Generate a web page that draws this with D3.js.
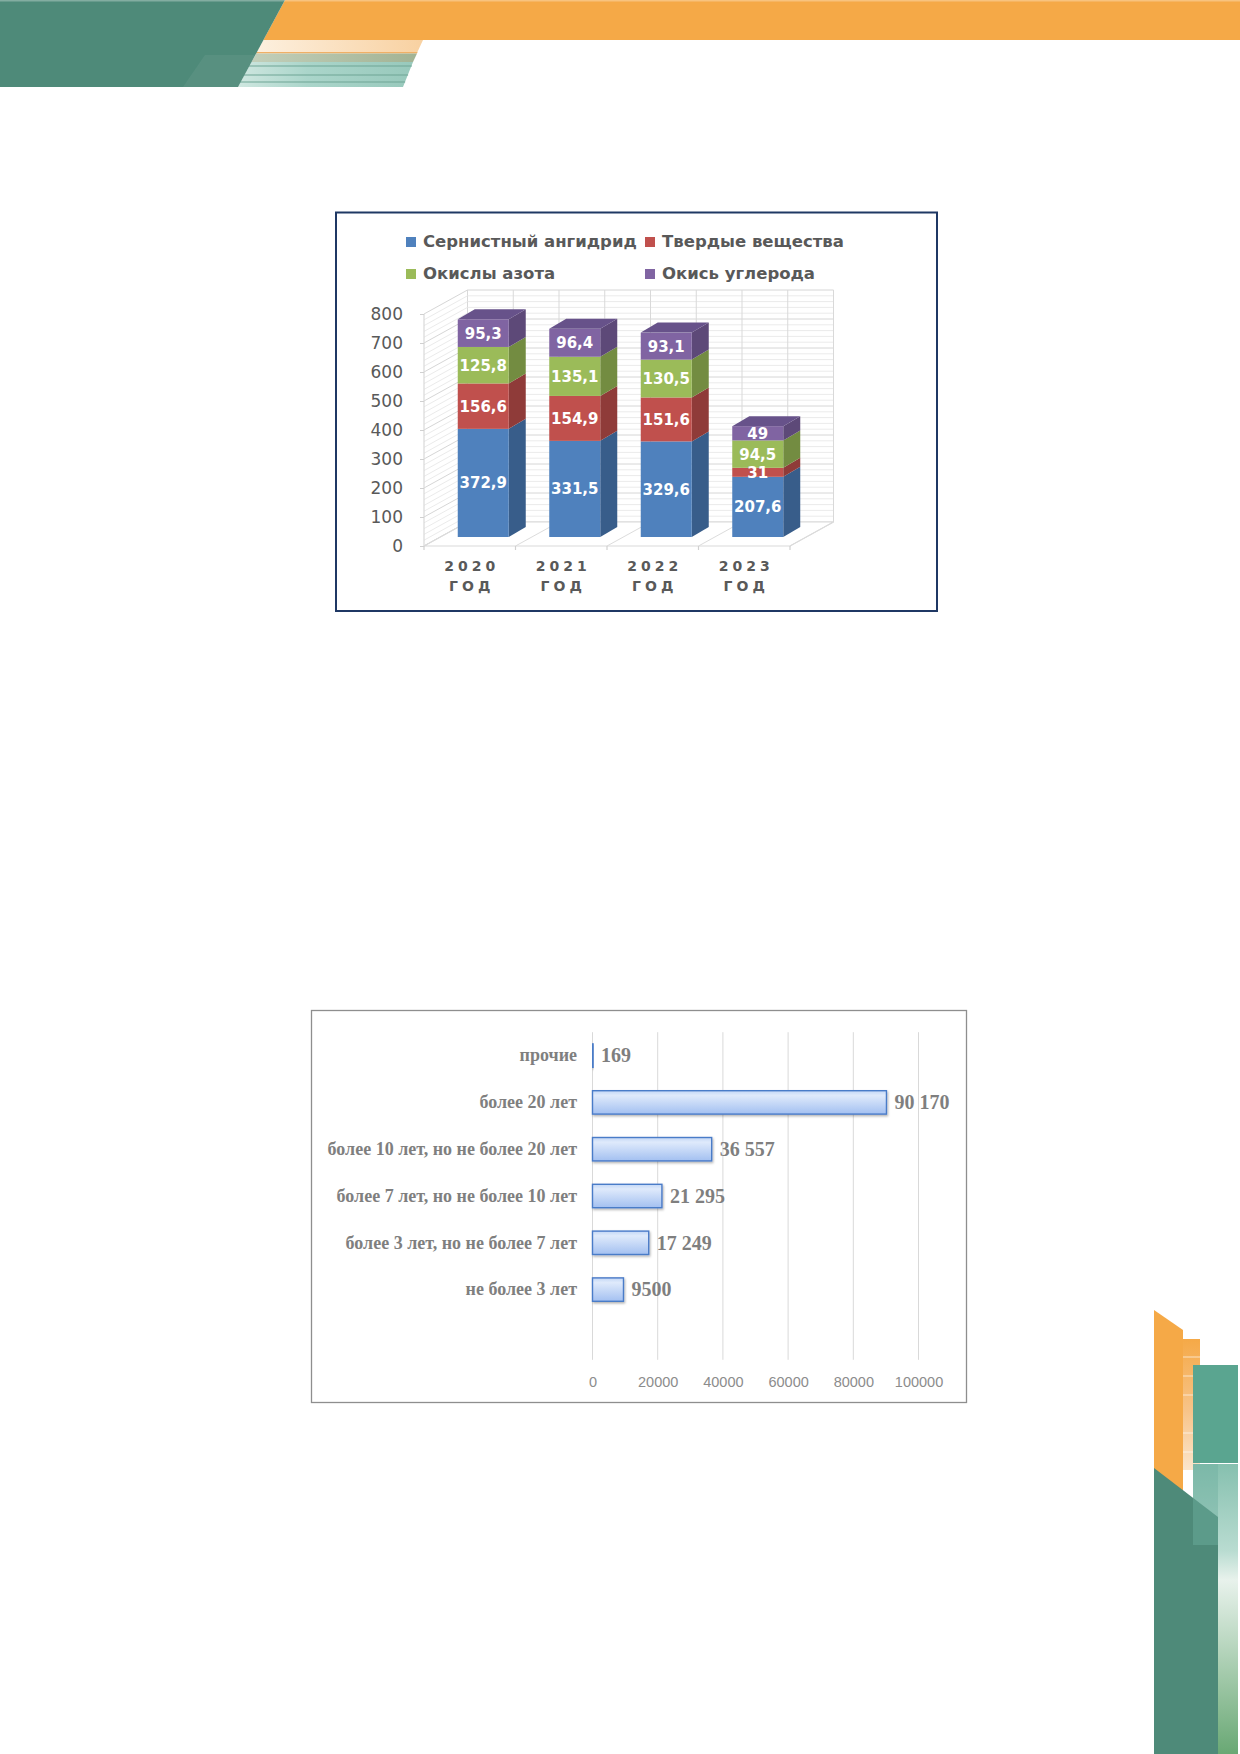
<!DOCTYPE html>
<html>
<head>
<meta charset="utf-8">
<script src="https://cdn.jsdelivr.net/npm/d3@7"></script>
<style>
  html, body { margin: 0; padding: 0; background: #fff; }
  svg { display: block; }
</style>
</head>
<body>
<div id="page"></div>
<script>
// Emissions chart (thousand tonnes)
const years = ['2020', '2021', '2022', '2023'];
const seriesNames = ['Сернистный ангидрид', 'Твердые вещества', 'Окислы азота', 'Окись углерода'];
const sulfurDioxide = [372.9, 331.5, 329.6, 207.6];
const solids = [156.6, 154.9, 151.6, 31];
const nitrogenOxides = [125.8, 135.1, 130.5, 94.5];
const carbonMonoxide = [95.3, 96.4, 93.1, 49];
const emissionTicks = [0, 100, 200, 300, 400, 500, 600, 700, 800];

// Age structure chart
const ageGroups = ['прочие', 'более 20 лет', 'более 10 лет, но не более 20 лет',
  'более 7 лет, но не более 10 лет', 'более 3 лет, но не более 7 лет', 'не более 3 лет', ''];
const ageCounts = [169, 90170, 36557, 21295, 17249, 9500, null];
const countTicks = [0, 20000, 40000, 60000, 80000, 100000];

const ru = d3.formatLocale({ decimal: ',', thousands: ' ', grouping: [3], currency: ['', ''] });
const fmtEmission = (v) => String(v).replace('.', ',');
const fmtCount = (v) => (v >= 10000 ? ru.format(',d')(v) : String(v));

const svg = d3.select('#page').append('svg').attr('width', 1240).attr('height', 1754);
const defs = svg.append('defs');

function linGrad(id, stops, vertical) {
  const lg = defs.append('linearGradient').attr('id', id)
    .attr('x1', 0).attr('y1', 0).attr('x2', vertical ? 0 : 1).attr('y2', vertical ? 1 : 0);
  stops.forEach(([o, c]) => lg.append('stop').attr('offset', o).attr('stop-color', c));
}

/* page decoration, top left */
function drawHeader() {
  const g = svg.append('g');
  linGrad('peach', [[0, '#fdf0df'], [1, '#f8d1a1']]);
  linGrad('olive', [[0, '#c2cfba'], [1, '#a2b394']]);
  linGrad('tealBand', [[0, '#cfe7e0'], [0.4, '#aad5ca'], [1, '#98c9bc']]);

  g.append('path').attr('d', 'M285,0L1240,0L1240,40L263.4,40Z').attr('fill', '#f5a947');
  g.append('path').attr('d', 'M263.4,40L423,40L417,53L256.4,53Z').attr('fill', 'url(#peach)');
  g.append('path').attr('d', 'M256.4,52L417.5,52L417,53.5L256,53.5Z').attr('fill', '#efb066');
  g.append('path').attr('d', 'M256.4,53.5L417,53.5L413,62L251.5,62Z').attr('fill', 'url(#olive)');
  g.append('path').attr('d', 'M251.5,62L413,62L403,87L238,87Z').attr('fill', 'url(#tealBand)');
  [66, 75, 82].forEach((yy) => {
    const left = 285 - yy * (47 / 87);
    const right = 423 - (yy - 40) * (20 / 47);
    g.append('line').attr('x1', left - 40).attr('x2', right).attr('y1', yy).attr('y2', yy)
      .attr('stroke', '#6fa595').attr('stroke-width', 1);
  });
  g.append('path').attr('d', 'M0,0L285,0L238,87L0,87Z').attr('fill', '#4e8a79');
  g.append('path').attr('d', 'M205,55L255,55L238,87L183,87Z').attr('fill', '#ffffff').attr('opacity', 0.06);
  g.append('rect').attr('x', 0).attr('y', 0).attr('width', 1240).attr('height', 1.5)
    .attr('fill', '#ffffff').attr('opacity', 0.3);
}

/* page decoration, bottom right */
function drawCorner() {
  const g = svg.append('g');
  linGrad('orangeFade', [[0, '#f5a947'], [0.55, '#f7c48a'], [1, '#fbe6cc']], true);
  linGrad('tealFade', [[0, '#86c0af'], [0.3, '#b9dcd1'], [0.4, '#e8f2ec'], [1, '#69a874']], true);

  g.append('path').attr('d', 'M1154,1310L1183,1330L1183,1495L1154,1470Z').attr('fill', '#f5a947');
  g.append('rect').attr('x', 1183).attr('y', 1339).attr('width', 17).attr('height', 131).attr('fill', 'url(#orangeFade)');
  [1357, 1376, 1395, 1433, 1452].forEach((yy) => {
    g.append('line').attr('x1', 1183).attr('x2', 1200).attr('y1', yy).attr('y2', yy)
      .attr('stroke', '#fff').attr('stroke-width', 0.8).attr('opacity', 0.8);
  });
  g.append('rect').attr('x', 1193).attr('y', 1365).attr('width', 45).attr('height', 98).attr('fill', '#5aa590');
  g.append('rect').attr('x', 1193).attr('y', 1464).attr('width', 45).attr('height', 290).attr('fill', 'url(#tealFade)');
  g.append('path').attr('d', 'M1154,1468L1218,1517L1218,1754L1154,1754Z').attr('fill', '#4e8a79');
  g.append('rect').attr('x', 1193).attr('y', 1464).attr('width', 25).attr('height', 81)
    .attr('fill', '#6fb0a0').attr('opacity', 0.45);
}

/* 3-D stacked column chart */
function drawEmissions() {
  const g = svg.append('g').attr('font-family', '"DejaVu Sans", Verdana, sans-serif');
  g.append('rect').attr('x', 336).attr('y', 212.5).attr('width', 601).attr('height', 398.5)
    .attr('fill', '#fff').attr('stroke', '#1f3864').attr('stroke-width', 2);

  // legend
  const colors = ['#4f81bd', '#c0504d', '#9bbb59', '#8064a2'];
  const sides = ['#385d8a', '#8f3b39', '#738c41', '#5d4978'];
  const legendPos = [[406, 247], [645, 247], [406, 279], [645, 279]];
  const lg = g.selectAll('.legend').data(seriesNames).join('g')
    .attr('transform', (d, i) => `translate(${legendPos[i][0]},${legendPos[i][1]})`);
  lg.append('rect').attr('x', 0).attr('y', -10).attr('width', 10).attr('height', 10).attr('fill', (d, i) => colors[i]);
  lg.append('text').attr('x', 17).attr('y', 0).text((d) => d)
    .attr('font-size', 16.5).attr('font-weight', 'bold').attr('fill', '#595959');

  const x = d3.scaleBand().domain(years).range([424, 790]);
  const y = d3.scaleLinear().domain([0, 800]).range([546, 314]);
  const wall = { dx: 43.5, dy: -24 };
  const x0 = x.range()[0];
  const x1 = x.range()[1];
  const minor = d3.range(0, 801, 20);
  const lineColor = (d) => (d % 100 === 0 ? '#d6d6d6' : '#ebebeb');

  // back wall
  g.selectAll('.backH').data(minor).join('line')
    .attr('x1', x0 + wall.dx).attr('x2', x1 + wall.dx)
    .attr('y1', (d) => y(d) + wall.dy).attr('y2', (d) => y(d) + wall.dy)
    .attr('stroke', lineColor).attr('stroke-width', 1);
  const halfSteps = d3.range(0, years.length * 2 + 1).map((i) => x0 + (i * x.step()) / 2 + wall.dx);
  g.selectAll('.backV').data(halfSteps).join('line')
    .attr('x1', (d) => d).attr('x2', (d) => d)
    .attr('y1', y(800) + wall.dy).attr('y2', y(0) + wall.dy)
    .attr('stroke', '#d9d9d9').attr('stroke-width', 1);

  // left wall
  g.selectAll('.sideH').data(minor).join('line')
    .attr('x1', x0).attr('x2', x0 + wall.dx)
    .attr('y1', (d) => y(d)).attr('y2', (d) => y(d) + wall.dy)
    .attr('stroke', lineColor).attr('stroke-width', 1);
  g.append('line').attr('x1', x0).attr('x2', x0).attr('y1', y(0)).attr('y2', y(800))
    .attr('stroke', '#d9d9d9').attr('stroke-width', 1.2);

  // floor
  const bounds = d3.range(0, years.length + 1).map((i) => x0 + i * x.step());
  g.append('path')
    .attr('d', `M${x0},${y(0)}L${x1},${y(0)}L${x1 + wall.dx},${y(0) + wall.dy}L${x0 + wall.dx},${y(0) + wall.dy}Z`)
    .attr('fill', '#fff').attr('stroke', '#d9d9d9').attr('stroke-width', 1.2);
  g.selectAll('.floorL').data(bounds).join('line')
    .attr('x1', (d) => d).attr('x2', (d) => d + wall.dx)
    .attr('y1', y(0)).attr('y2', y(0) + wall.dy)
    .attr('stroke', '#dcdcdc').attr('stroke-width', 1);
  g.selectAll('.floorT').data(bounds).join('line')
    .attr('x1', (d) => d).attr('x2', (d) => d)
    .attr('y1', y(0)).attr('y2', y(0) + 4)
    .attr('stroke', '#d0d0d0').attr('stroke-width', 1.2);

  // y axis
  const ya = g.append('g').attr('transform', `translate(${x0},0)`)
    .call(d3.axisLeft(y).tickValues(emissionTicks).tickSize(4).tickPadding(17));
  ya.select('.domain').remove();
  ya.selectAll('line').attr('stroke', '#d0d0d0');
  ya.selectAll('text').attr('font-family', '"DejaVu Sans", Verdana, sans-serif')
    .attr('font-size', 17).attr('fill', '#595959');

  // x labels
  const xl = g.selectAll('.xlab').data(years).join('text')
    .attr('text-anchor', 'middle').attr('font-size', 14).attr('font-weight', 'bold')
    .attr('fill', '#595959').attr('letter-spacing', 4);
  xl.append('tspan').attr('x', (d) => x(d) + x.bandwidth() / 2 + 2).attr('y', 571).text((d) => d);
  xl.append('tspan').attr('x', (d) => x(d) + x.bandwidth() / 2 + 2).attr('y', 591).text('ГОД');

  // bars
  const table = years.map((yr, i) => ({
    year: yr, so2: sulfurDioxide[i], solids: solids[i], nox: nitrogenOxides[i], co: carbonMonoxide[i],
  }));
  const keys = ['so2', 'solids', 'nox', 'co'];
  const stacked = d3.stack().keys(keys)(table);
  const shift = { dx: 13.5, dy: -9 };
  const depth = { dx: 17, dy: -10 };
  const bw = 51;

  years.forEach((yr, i) => {
    const bx0 = x(yr) + x.bandwidth() / 2 + shift.dx - bw / 2;
    const bx1 = bx0 + bw;
    const bar = g.append('g');
    stacked.forEach((layer, k) => {
      const seg = layer[i];
      const yb = y(seg[0]) + shift.dy;
      const yt = y(seg[1]) + shift.dy;
      bar.append('path')
        .attr('d', `M${bx1},${yb}L${bx1},${yt}L${bx1 + depth.dx},${yt + depth.dy}L${bx1 + depth.dx},${yb + depth.dy}Z`)
        .attr('fill', sides[k]);
      bar.append('rect').attr('x', bx0).attr('y', yt).attr('width', bw).attr('height', yb - yt).attr('fill', colors[k]);
      if (k === stacked.length - 1) {
        bar.append('path')
          .attr('d', `M${bx0},${yt}L${bx1},${yt}L${bx1 + depth.dx},${yt + depth.dy}L${bx0 + depth.dx},${yt + depth.dy}Z`)
          .attr('fill', '#67528a');
      }
    });
    stacked.forEach((layer, k) => {
      const seg = layer[i];
      const yc = (y(seg[0]) + y(seg[1])) / 2 + shift.dy;
      bar.append('text').attr('x', (bx0 + bx1) / 2).attr('y', yc).attr('dy', '0.36em')
        .attr('text-anchor', 'middle').attr('font-size', 15).attr('font-weight', 'bold')
        .attr('fill', '#fff').text(fmtEmission(seg.data[keys[k]]));
    });
  });
}

/* horizontal bar chart */
function drawAges() {
  const g = svg.append('g');
  g.append('rect').attr('x', 311.5).attr('y', 1010.5).attr('width', 655).attr('height', 392)
    .attr('fill', '#fff').attr('stroke', '#8e8e8e').attr('stroke-width', 1.3);

  linGrad('barFill', [[0, '#c3d7f6'], [0.2, '#dfeafb'], [1, '#a3c0f1']], true);
  const f = defs.append('filter').attr('id', 'shadow').attr('x', '-10%').attr('y', '-20%').attr('width', '130%').attr('height', '160%');
  f.append('feDropShadow').attr('dx', 1).attr('dy', 1.5).attr('stdDeviation', 1)
    .attr('flood-color', '#000').attr('flood-opacity', 0.3);

  const x = d3.scaleLinear().domain([0, 100000]).range([592.5, 918.5]);
  const y = d3.scaleBand().domain(ageGroups).range([1032.2, 1359.8]).paddingInner(0.5).paddingOuter(0.25);

  g.selectAll('.grid').data(countTicks).join('line')
    .attr('x1', (d) => x(d)).attr('x2', (d) => x(d))
    .attr('y1', y.range()[0]).attr('y2', y.range()[1])
    .attr('stroke', '#d9d9d9').attr('stroke-width', 1);

  const xa = g.append('g').attr('transform', `translate(0,${y.range()[1]})`)
    .call(d3.axisBottom(x).tickValues(countTicks).tickSize(0).tickPadding(16.5).tickFormat(d3.format('d')));
  xa.select('.domain').remove();
  xa.selectAll('text').attr('font-family', '"Liberation Sans", Arial, sans-serif')
    .attr('font-size', 14.5).attr('fill', '#8c8c8c');

  const ya = g.append('g').attr('transform', `translate(${x(0)},0)`)
    .call(d3.axisLeft(y).tickSize(0).tickPadding(15.5));
  ya.select('.domain').remove();
  ya.selectAll('text').attr('font-family', '"Liberation Serif", "Times New Roman", serif')
    .attr('font-size', 18).attr('font-weight', 'bold').attr('fill', '#7f7f7f');

  const rows = ageGroups.map((name, i) => ({ name, value: ageCounts[i] })).filter((d) => d.value != null);
  g.selectAll('.bar').data(rows).join('rect')
    .attr('x', x(0)).attr('y', (d) => y(d.name))
    .attr('width', (d) => x(d.value) - x(0)).attr('height', y.bandwidth())
    .attr('fill', 'url(#barFill)').attr('stroke', '#4a7bc8').attr('stroke-width', 1.4)
    .attr('filter', 'url(#shadow)');

  g.selectAll('.val').data(rows).join('text')
    .attr('x', (d) => x(d.value) + 8).attr('y', (d) => y(d.name) + y.bandwidth() / 2).attr('dy', '0.34em')
    .attr('font-family', '"Liberation Serif", "Times New Roman", serif')
    .attr('font-size', 20).attr('font-weight', 'bold').attr('fill', '#7f7f7f')
    .text((d) => fmtCount(d.value));
}

drawHeader();
drawCorner();
drawEmissions();
drawAges();
</script>
</body>
</html>
